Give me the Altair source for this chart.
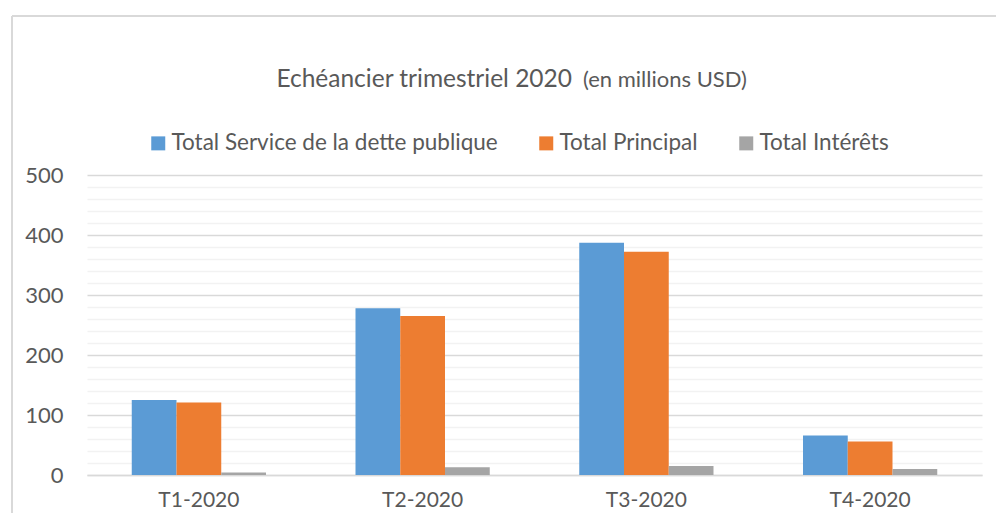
import altair as alt
import pandas as pd

quarters = ["T1-2020", "T2-2020", "T3-2020", "T4-2020"]
series = ["Total Service de la dette publique", "Total Principal", "Total Intérêts"]
service = [125, 278, 387, 66]
principal = [121, 265, 372, 56]
interets = [4, 13, 15, 10]
colors = ["#5B9BD5", "#ED7D31", "#A5A5A5"]
y_ticks = list(range(0, 501, 20))

rows = []
for i, q in enumerate(quarters):
    for s, vals in zip(series, [service, principal, interets]):
        rows.append({"trimestre": q, "serie": s, "valeur": vals[i]})
df = pd.DataFrame(rows)

FONT = "Lato"
GREY = "#595959"
W, H = 895, 300

bars = alt.Chart(df).mark_bar(strokeWidth=0).encode(
    x=alt.X("trimestre:N", sort=quarters, title=None,
            scale=alt.Scale(paddingInner=0.4, paddingOuter=0.2),
            axis=alt.Axis(labelAngle=0, labelFontSize=21, labelColor=GREY, labelFont=FONT,
                          labelPadding=14, ticks=False, grid=False,
                          domainColor="#D9D9D9", domainWidth=1.5)),
    xOffset=alt.XOffset("serie:N", sort=series, scale=alt.Scale(paddingInner=0, paddingOuter=0)),
    y=alt.Y("valeur:Q", title=None,
            scale=alt.Scale(domain=[0, 500], nice=False),
            axis=alt.Axis(values=y_ticks, labelExpr="datum.value % 100 === 0 ? datum.label : ''",
                          labelFontSize=22, labelColor=GREY, labelFont=FONT, labelPadding=24,
                          ticks=False, domain=False,
                          gridColor={"condition": {"test": "datum.value % 100 === 0", "value": "#D9D9D9"},
                                     "value": "#F2F2F2"},
                          gridWidth=1.3)),
    color=alt.Color("serie:N", sort=series,
                    scale=alt.Scale(domain=series, range=colors),
                    legend=alt.Legend(title=None, orient="none", direction="horizontal",
                                      legendX=60, legendY=-43, symbolType="square",
                                      symbolSize=196, symbolStrokeWidth=0, labelFontSize=22.5,
                                      labelFont=FONT, labelColor=GREY, labelOffset=2,
                                      labelLimit=0, columnPadding=37, padding=0)),
)

one = alt.Data(values=[{}])
frame_top = alt.Chart(one).mark_rule(stroke="#D9D9D9", strokeWidth=2).encode(
    x=alt.value(-75), x2=alt.value(909), y=alt.value(-159))
frame_left = alt.Chart(one).mark_rule(stroke="#D9D9D9", strokeWidth=2).encode(
    x=alt.value(-75), y=alt.value(-159), y2=alt.value(338))

title_main = alt.Chart(one).mark_text(
    text="Echéancier trimestriel 2020", font=FONT, fontSize=24.5, color=GREY,
    align="right", baseline="alphabetic"
).encode(x=alt.value(485), y=alt.value(-88))

title_sub = alt.Chart(one).mark_text(
    text="(en millions USD)", font=FONT, fontSize=22, color=GREY,
    align="left", baseline="alphabetic"
).encode(x=alt.value(496), y=alt.value(-88))

chart = alt.layer(frame_top, frame_left, bars, title_main, title_sub).properties(
    width=W, height=H,
    autosize=alt.AutoSizeParams(type="none"),
    padding={"left": 79, "top": 167, "right": 14, "bottom": 38},
).configure(background="white").configure_view(stroke=None)

chart.save("out.html", embed_options={"renderer": "svg", "actions": False})
